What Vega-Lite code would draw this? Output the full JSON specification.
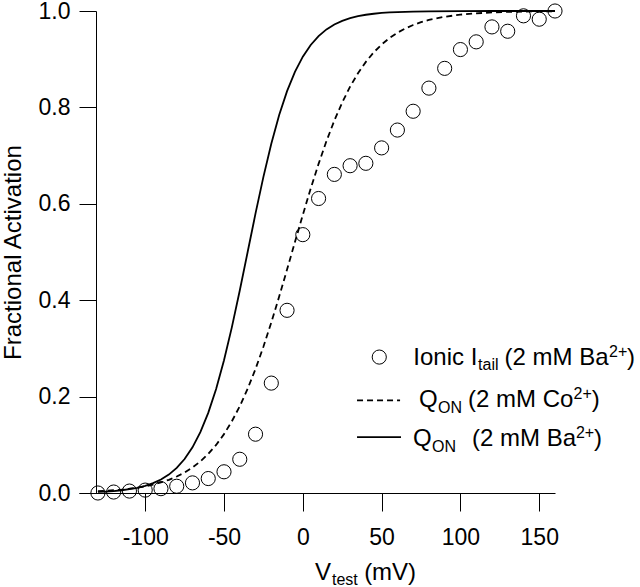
{
  "$schema": "https://vega.github.io/schema/vega-lite/v6.json",
  "width": 476,
  "height": 482,
  "autosize": "none",
  "padding": {"left": 79, "top": 11, "right": 85, "bottom": 94},
  "background": "white",
  "config": {
    "view": {"stroke": null},
    "font": "Liberation Sans",
    "axis": {"grid": false, "domainColor": "black", "tickColor": "black", "labelColor": "black", "titleColor": "black", "labelFont": "Liberation Sans", "titleFont": "Liberation Sans", "domainWidth": 1, "tickWidth": 1}
  },
  "datasets": {
    "ionic": [
      {"V": -130, "A": 0.0}, {"V": -120, "A": 0.002}, {"V": -110, "A": 0.004}, {"V": -100, "A": 0.006},
      {"V": -90, "A": 0.009}, {"V": -80, "A": 0.014}, {"V": -70, "A": 0.021}, {"V": -60, "A": 0.030},
      {"V": -50, "A": 0.044}, {"V": -40, "A": 0.070}, {"V": -30, "A": 0.122}, {"V": -20, "A": 0.228},
      {"V": -10, "A": 0.379}, {"V": 0, "A": 0.536}, {"V": 10, "A": 0.611}, {"V": 20, "A": 0.661},
      {"V": 30, "A": 0.679}, {"V": 40, "A": 0.684}, {"V": 50, "A": 0.716}, {"V": 60, "A": 0.753},
      {"V": 70, "A": 0.792}, {"V": 80, "A": 0.840}, {"V": 90, "A": 0.881}, {"V": 100, "A": 0.920},
      {"V": 110, "A": 0.936}, {"V": 120, "A": 0.967}, {"V": 130, "A": 0.958}, {"V": 140, "A": 0.990},
      {"V": 150, "A": 0.983}, {"V": 160, "A": 1.0}
    ],
    "qba": [
      {"V": -130, "A": 0.0022}, {"V": -125, "A": 0.0030}, {"V": -120, "A": 0.0041}, {"V": -115, "A": 0.0057},
      {"V": -110, "A": 0.0079}, {"V": -105, "A": 0.0108}, {"V": -100, "A": 0.0149}, {"V": -95, "A": 0.0204},
      {"V": -90, "A": 0.0279}, {"V": -85, "A": 0.0382}, {"V": -80, "A": 0.0520}, {"V": -75, "A": 0.0704},
      {"V": -70, "A": 0.0947}, {"V": -65, "A": 0.1262}, {"V": -60, "A": 0.1662}, {"V": -55, "A": 0.2158},
      {"V": -50, "A": 0.2753}, {"V": -45, "A": 0.3441}, {"V": -40, "A": 0.4200}, {"V": -35, "A": 0.5},
      {"V": -30, "A": 0.58}, {"V": -25, "A": 0.6559}, {"V": -20, "A": 0.7247}, {"V": -15, "A": 0.7842},
      {"V": -10, "A": 0.8338}, {"V": -5, "A": 0.8738}, {"V": 0, "A": 0.9053}, {"V": 5, "A": 0.9296},
      {"V": 10, "A": 0.9480}, {"V": 15, "A": 0.9618}, {"V": 20, "A": 0.9721}, {"V": 25, "A": 0.9796},
      {"V": 30, "A": 0.9851}, {"V": 35, "A": 0.9892}, {"V": 40, "A": 0.9922}, {"V": 45, "A": 0.9943},
      {"V": 50, "A": 0.9959}, {"V": 55, "A": 0.9970}, {"V": 60, "A": 0.9978}, {"V": 70, "A": 0.9989},
      {"V": 80, "A": 0.9994}, {"V": 100, "A": 0.9998}, {"V": 120, "A": 0.99995}, {"V": 140, "A": 1.0},
      {"V": 160, "A": 1.0}
    ],
    "qco": [
      {"V": -130, "A": 0.0036}, {"V": -125, "A": 0.0045}, {"V": -120, "A": 0.0057}, {"V": -115, "A": 0.0071},
      {"V": -110, "A": 0.0089}, {"V": -105, "A": 0.0112}, {"V": -100, "A": 0.0140}, {"V": -95, "A": 0.0175},
      {"V": -90, "A": 0.0219}, {"V": -85, "A": 0.0274}, {"V": -80, "A": 0.0342}, {"V": -75, "A": 0.0425},
      {"V": -70, "A": 0.0529}, {"V": -65, "A": 0.0655}, {"V": -60, "A": 0.0810}, {"V": -55, "A": 0.0997},
      {"V": -50, "A": 0.1221}, {"V": -45, "A": 0.1488}, {"V": -40, "A": 0.1800}, {"V": -35, "A": 0.2162},
      {"V": -30, "A": 0.2574}, {"V": -25, "A": 0.3034}, {"V": -20, "A": 0.3537}, {"V": -15, "A": 0.4075},
      {"V": -10, "A": 0.4636}, {"V": -5, "A": 0.5205}, {"V": 0, "A": 0.5770}, {"V": 5, "A": 0.6316},
      {"V": 10, "A": 0.6829}, {"V": 15, "A": 0.7301}, {"V": 20, "A": 0.7727}, {"V": 25, "A": 0.8103},
      {"V": 30, "A": 0.8430}, {"V": 35, "A": 0.8709}, {"V": 40, "A": 0.8944}, {"V": 45, "A": 0.9142},
      {"V": 50, "A": 0.9305}, {"V": 55, "A": 0.9439}, {"V": 60, "A": 0.9548}, {"V": 65, "A": 0.9637},
      {"V": 70, "A": 0.9709}, {"V": 75, "A": 0.9767}, {"V": 80, "A": 0.9814}, {"V": 90, "A": 0.9881},
      {"V": 100, "A": 0.9924}, {"V": 110, "A": 0.9952}, {"V": 120, "A": 0.9970}, {"V": 130, "A": 0.9981},
      {"V": 140, "A": 0.9988}, {"V": 150, "A": 0.9992}, {"V": 160, "A": 0.9995}
    ],
    "legpt": [{"V": 48.5, "A": 0.282}],
    "legdash": [{"V": 34.4, "V2": 61.7, "A": 0.192}],
    "legsolid": [{"V": 34.4, "V2": 62.3, "A": 0.116}],
    "bigtext": [
      {"V": 70.1, "A": 0.265, "t": "Ionic I"},
      {"V": 128.0, "A": 0.265, "t": "(2 mM Ba"},
      {"V": 205.7, "A": 0.265, "t": ")"},
      {"V": 73.7, "A": 0.178, "t": "Q"},
      {"V": 104.8, "A": 0.178, "t": "(2 mM Co"},
      {"V": 183.3, "A": 0.178, "t": ")"},
      {"V": 69.9, "A": 0.097, "t": "Q"},
      {"V": 107.4, "A": 0.097, "t": "(2 mM Ba"},
      {"V": 184.8, "A": 0.097, "t": ")"},
      {"V": 7.7, "A": -0.181, "t": "V"},
      {"V": 38.9, "A": -0.181, "t": "(mV)"}
    ],
    "smalltext": [
      {"V": 111.2, "A": 0.255, "t": "tail"},
      {"V": 194.3, "A": 0.283, "t": "2+"},
      {"V": 85.8, "A": 0.167, "t": "ON"},
      {"V": 171.8, "A": 0.196, "t": "2+"},
      {"V": 82.0, "A": 0.086, "t": "ON"},
      {"V": 173.3, "A": 0.115, "t": "2+"},
      {"V": 18.5, "A": -0.19, "t": "test"}
    ]
  },
  "layer": [
    {
      "data": {"name": "qba"},
      "mark": {"type": "line", "color": "black", "strokeWidth": 1.8, "clip": false},
      "encoding": {
        "x": {"field": "V", "type": "quantitative", "scale": {"domain": [-142, 160], "nice": false, "zero": false},
          "axis": {"values": [-100, -50, 0, 50, 100, 150], "labelExpr": "'' + datum.value", "title": null, "tickSize": 18, "labelFontSize": 23, "labelPadding": 15}},
        "y": {"field": "A", "type": "quantitative", "scale": {"domain": [0, 1], "nice": false, "zero": false},
          "axis": {"values": [0, 0.2, 0.4, 0.6, 0.8, 1.0], "format": ".1f", "offset": -17, "tickSize": 17, "labelFontSize": 23, "labelPadding": 9,
            "title": "Fractional Activation", "titleFontSize": 24, "titleFontWeight": "normal", "titleAngle": 270, "titleAlign": "center", "titleBaseline": "alphabetic", "titleX": -76, "titleY": 241}}
      }
    },
    {
      "data": {"name": "qco"},
      "mark": {"type": "line", "color": "black", "strokeWidth": 1.8, "strokeDash": [6, 4], "clip": false},
      "encoding": {
        "x": {"field": "V", "type": "quantitative", "scale": {"domain": [-142, 160], "nice": false, "zero": false}},
        "y": {"field": "A", "type": "quantitative", "scale": {"domain": [0, 1], "nice": false, "zero": false}}
      }
    },
    {
      "data": {"name": "ionic"},
      "mark": {"type": "point", "shape": "circle", "size": 200, "filled": false, "color": "black", "strokeWidth": 1, "opacity": 1, "clip": false},
      "encoding": {
        "x": {"field": "V", "type": "quantitative"},
        "y": {"field": "A", "type": "quantitative"}
      }
    },
    {
      "data": {"name": "legpt"},
      "mark": {"type": "point", "shape": "circle", "size": 200, "filled": false, "color": "black", "strokeWidth": 1, "opacity": 1},
      "encoding": {
        "x": {"field": "V", "type": "quantitative"},
        "y": {"field": "A", "type": "quantitative"}
      }
    },
    {
      "data": {"name": "legdash"},
      "mark": {"type": "rule", "color": "black", "strokeWidth": 1.8, "strokeDash": [6, 4]},
      "encoding": {
        "x": {"field": "V", "type": "quantitative"},
        "x2": {"field": "V2"},
        "y": {"field": "A", "type": "quantitative"}
      }
    },
    {
      "data": {"name": "legsolid"},
      "mark": {"type": "rule", "color": "black", "strokeWidth": 1.8},
      "encoding": {
        "x": {"field": "V", "type": "quantitative"},
        "x2": {"field": "V2"},
        "y": {"field": "A", "type": "quantitative"}
      }
    },
    {
      "data": {"name": "bigtext"},
      "mark": {"type": "text", "font": "Liberation Sans", "fontSize": 24, "align": "left", "baseline": "alphabetic", "color": "black"},
      "encoding": {
        "x": {"field": "V", "type": "quantitative"},
        "y": {"field": "A", "type": "quantitative"},
        "text": {"field": "t"}
      }
    },
    {
      "data": {"name": "smalltext"},
      "mark": {"type": "text", "font": "Liberation Sans", "fontSize": 16, "align": "left", "baseline": "alphabetic", "color": "black"},
      "encoding": {
        "x": {"field": "V", "type": "quantitative"},
        "y": {"field": "A", "type": "quantitative"},
        "text": {"field": "t"}
      }
    }
  ]
}
